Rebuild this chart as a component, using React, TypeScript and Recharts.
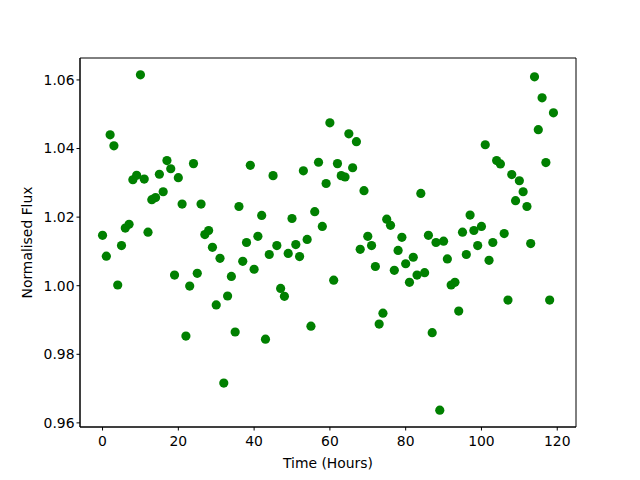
import { Label, ReferenceArea, Scatter, ScatterChart, XAxis, YAxis } from "recharts";

const hours = [
  0, 1, 2, 3, 4, 5, 6, 7, 8, 9, 10, 11, 12, 13, 14, 15, 16, 17, 18, 19,
  20, 21, 22, 23, 24, 25, 26, 27, 28, 29, 30, 31, 32, 33, 34, 35, 36, 37, 38, 39,
  40, 41, 42, 43, 44, 45, 46, 47, 48, 49, 50, 51, 52, 53, 54, 55, 56, 57, 58, 59,
  60, 61, 62, 63, 64, 65, 66, 67, 68, 69, 70, 71, 72, 73, 74, 75, 76, 77, 78, 79,
  80, 81, 82, 83, 84, 85, 86, 87, 88, 89, 90, 91, 92, 93, 94, 95, 96, 97, 98, 99,
  100, 101, 102, 103, 104, 105, 106, 107, 108, 109, 110, 111, 112, 113, 114, 115, 116, 117, 118, 119,
];

const flux = [
  1.0147, 1.0086, 1.044, 1.0408, 1.0002, 1.0117, 1.0168, 1.0179, 1.0309, 1.0322,
  1.0615, 1.0311, 1.0156, 1.0251, 1.0257, 1.0325, 1.0274, 1.0365, 1.0341, 1.0031,
  1.0315, 1.0238, 0.9853, 0.9999, 1.0356, 1.0036, 1.0238, 1.0149, 1.0161, 1.0112,
  0.9944, 1.008, 0.9716, 0.997, 1.0027, 0.9865, 1.0231, 1.0071, 1.0126, 1.0351,
  1.0048, 1.0144, 1.0205, 0.9844, 1.0091, 1.0321, 1.0117, 0.9992, 0.9969, 1.0094,
  1.0196, 1.012, 1.0085, 1.0335, 1.0135, 0.9882, 1.0216, 1.036, 1.0173, 1.0298,
  1.0475, 1.0016, 1.0356, 1.0321, 1.0317, 1.0443, 1.0344, 1.042, 1.0106, 1.0277,
  1.0144, 1.0117, 1.0056, 0.9888, 0.992, 1.0194, 1.0176, 1.0045, 1.0103, 1.0141,
  1.0064, 1.001, 1.0083, 1.0031, 1.0269, 1.0038, 1.0147, 0.9863, 1.0126, 0.9637,
  1.013, 1.0078, 1.0002, 1.001, 0.9926, 1.0156, 1.0091, 1.0206, 1.0161, 1.0117,
  1.0173, 1.0411, 1.0074, 1.0126, 1.0365, 1.0355, 1.0152, 0.9958, 1.0324, 1.0248,
  1.0306, 1.0274, 1.0231, 1.0123, 1.0609, 1.0455, 1.0548, 1.0359, 0.9958, 1.0504,
];

const xTicks = [0, 20, 40, 60, 80, 100, 120];
const yTicks = [0.96, 0.98, 1.0, 1.02, 1.04, 1.06];

const data = hours.map((t, i) => ({ time: t, flux: flux[i] }));

const xDomain = [-5.95, 124.95];
const yDomain = [0.9588, 1.0664];
const tickStyle = { fill: "#000", fontSize: 13.9 };

const Dot = (props: any) => <circle cx={props.cx} cy={props.cy} r={4.6} fill="#008000" />;

export default function App() {
  return (
    <div style={{ position: "absolute", left: 0, top: 0, fontFamily: "DejaVu Sans" }}>
      <ScatterChart width={640} height={480} margin={{ top: 58, right: 64, bottom: 0, left: 0 }}>
        <XAxis
          type="number"
          dataKey="time"
          domain={xDomain}
          allowDataOverflow
          ticks={xTicks}
          tickSize={3.5}
          tickMargin={6}
          height={53}
          stroke="#000"
          tick={tickStyle}
        >
          <Label value="Time (Hours)" position="center" dy={10} fill="#000" fontSize={13.9} />
        </XAxis>
        <YAxis
          type="number"
          dataKey="flux"
          domain={yDomain}
          allowDataOverflow
          ticks={yTicks}
          tickFormatter={(v: number) => v.toFixed(2)}
          tickSize={3.5}
          width={80}
          stroke="#000"
          tick={tickStyle}
        >
          <Label value="Normalised Flux" angle={-90} position="center" dx={-13} fill="#000" fontSize={13.9} />
        </YAxis>
        {/* matplotlib-style box around the axes */}
        <ReferenceArea
          x1={xDomain[0]}
          x2={xDomain[1]}
          y1={yDomain[0]}
          y2={yDomain[1]}
          fill="none"
          fillOpacity={0}
          stroke="#000"
          strokeWidth={1}
          ifOverflow="visible"
        />
        <Scatter data={data} shape={Dot} isAnimationActive={false} />
      </ScatterChart>
    </div>
  );
}
